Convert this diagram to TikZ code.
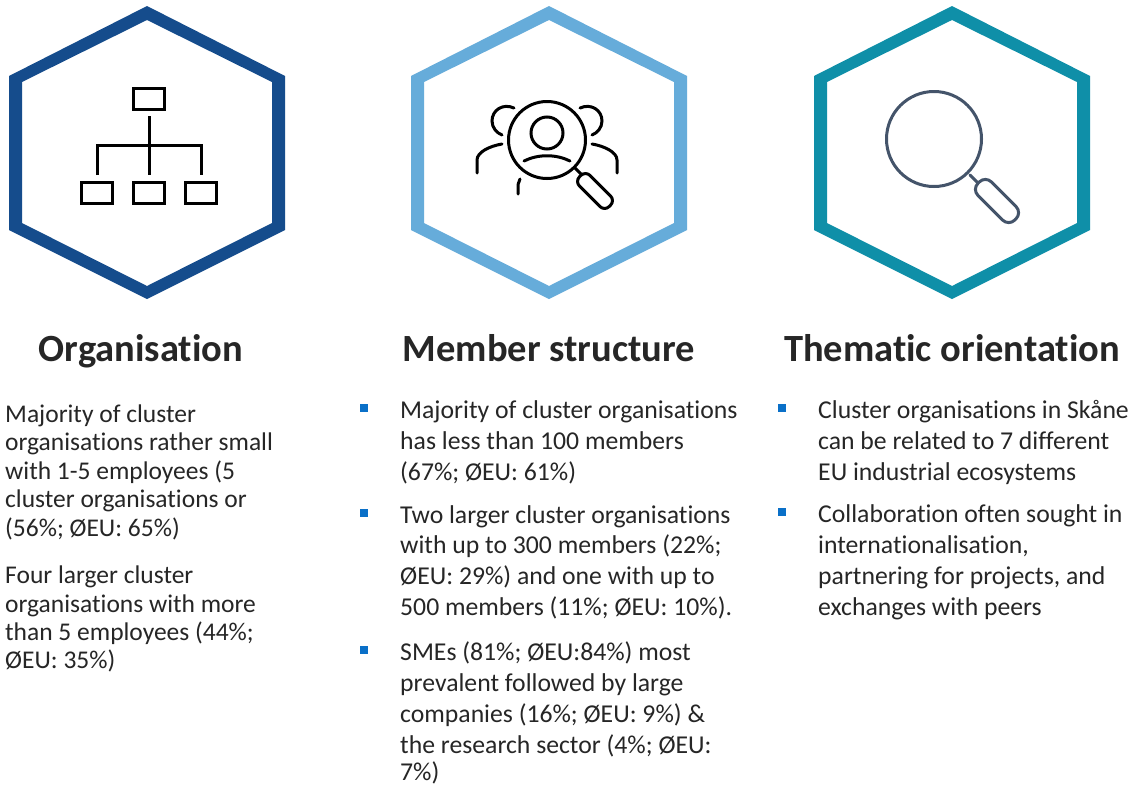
\documentclass[tikz,border=0pt]{standalone}
\usepackage{fontspec}
\setmainfont{Carlito}[Ligatures=NoCommon]
\definecolor{hexa}{HTML}{154C8C}
\definecolor{hexb}{HTML}{66ACDA}
\definecolor{hexc}{HTML}{0F8FA8}
\definecolor{txt}{HTML}{262626}
\definecolor{bul}{HTML}{0A70C8}
\definecolor{mag}{HTML}{44546A}
\tikzset{
  bodytext/.style={anchor=base west,inner sep=0pt,font=\fontsize{25.7}{26}\selectfont,text=txt},
  smalltext/.style={anchor=base west,inner sep=0pt,font=\fontsize{25.5}{26}\selectfont,text=txt},
  headtext/.style={anchor=base,inner sep=0pt,font=\fontsize{38.5}{39}\selectfont\bfseries,text=txt},
  bulletmark/.style={fill=bul,draw=none,minimum size=8pt,inner sep=0pt,rectangle},
  iconline/.style={draw=black,line width=3pt},
  mansline/.style={draw=black,line width=3pt,line cap=round},
  glassline/.style={draw=mag,line width=3pt,line cap=round},
}
\newcommand{\hexring}[2]{%
  \fill[#2,even odd rule,shift={(#1,0)}]
    (0,6)--(138,76)--(138,230)--(0,299)--(-138,230)--(-138,76)--cycle
    (0,20)--(125,82)--(125,223)--(0,286)--(-125,223)--(-125,82)--cycle;}
\begin{document}
\begin{tikzpicture}[x=1pt,y=-1pt]
\useasboundingbox (0,0) rectangle (1132,785);
\fill[white] (0,0) rectangle (1132,785);
\hexring{147}{hexa}
\hexring{549}{hexb}
\hexring{952}{hexc}
% org chart icon
\node[iconline,rectangle,minimum width=31pt,minimum height=21pt,inner sep=0pt] (top) at (149,99) {};
\node[iconline,rectangle,minimum width=31pt,minimum height=21pt,inner sep=0pt] (lb) at (97,193) {};
\node[iconline,rectangle,minimum width=31pt,minimum height=21pt,inner sep=0pt] (mb) at (149,193) {};
\node[iconline,rectangle,minimum width=31pt,minimum height=21pt,inner sep=0pt] (rb) at (201,193) {};
\coordinate (tj) at (149,116);
\coordinate (le) at (97,175);
\coordinate (me) at (149,175);
\coordinate (re) at (201,175);
\draw[iconline] (tj)--(me);
\draw[iconline] (le)--(97,145)--(201,145)--(re);
% people magnifier
\draw[mansline] (547,140) circle[radius=38.5];
\draw[mansline] (547,133) circle[radius=16];
\draw[mansline] (524,161) .. controls (538,154) and (556,154) .. (570,161);
\draw[mansline] (514,108) .. controls (503,103) and (492,110) .. (492,121) .. controls (492,128) and (497,133) .. (502,135);
\draw[mansline] (580,108) .. controls (591,103) and (602,110) .. (602,121) .. controls (602,128) and (597,133) .. (592,135);
\draw[mansline] (502,144) .. controls (490,146) and (477,152) .. (477,160) -- (477,173);
\draw[mansline] (592,144) .. controls (604,146) and (617,152) .. (617,160) -- (617,173);
\draw[mansline] (520,179) .. controls (518,182) and (518,184) .. (518,194);
\draw[mansline] (575,168) -- (581,174);
\draw[mansline,rounded corners=6.5pt,rotate around={-45:(595,191)}] (574,183.5) rectangle (616,198.5);
% plain magnifier
\draw[glassline] (934,139) circle[radius=47.5];
\draw[glassline] (970,175) -- (977,182);
\draw[glassline,rounded corners=8.5pt,rotate around={-45:(997,201)}] (971,191.5) rectangle (1023,210.5);
% headings
\node[headtext] (h1) at (141,361) {Organisation};
\node[headtext] (h2) at (549,361) {Member structure};
\node[headtext] (h3) at (952,361) {Thematic orientation};
% column 1
\node[smalltext] (a1) at (5,422) {Majority of cluster};
\node[smalltext] (a2) at (5,450) {organisations rather small};
\node[smalltext] (a3) at (5,479) {with 1-5 employees (5};
\node[smalltext] (a4) at (5,507) {cluster organisations or};
\node[smalltext] (a5) at (5,536) {(56\%; ØEU: 65\%)};
\node[smalltext] (a6) at (5,583) {Four larger cluster};
\node[smalltext] (a7) at (5,612) {organisations with more};
\node[smalltext] (a8) at (5,640) {than 5 employees (44\%;};
\node[smalltext] (a9) at (5,668) {ØEU: 35\%)};
% column 2
\node[bulletmark] (bm1) at (364,408) {};
\node[bulletmark] (bm2) at (364,513) {};
\node[bulletmark] (bm3) at (364,650) {};
\node[bodytext] (b1) at (400,418) {Majority of cluster organisations};
\node[bodytext] (b2) at (400,449) {has less than 100 members};
\node[bodytext] (b3) at (400,480) {(67\%; ØEU: 61\%)};
\node[bodytext] (b4) at (400,523) {Two larger cluster organisations};
\node[bodytext] (b5) at (400,553) {with up to 300 members (22\%;};
\node[bodytext] (b6) at (400,584) {ØEU: 29\%) and one with up to};
\node[bodytext] (b7) at (400,615) {500 members (11\%; ØEU: 10\%).};
\node[bodytext] (b8) at (400,660) {SMEs (81\%; ØEU:84\%) most};
\node[bodytext] (b9) at (400,691) {prevalent followed by large};
\node[bodytext] (b10) at (400,722) {companies (16\%; ØEU: 9\%) \&};
\node[bodytext] (b11) at (400,753) {the research sector (4\%; ØEU:};
\node[bodytext] (b12) at (400,780) {7\%)};
% column 3
\node[bulletmark] (cm1) at (782,408) {};
\node[bulletmark] (cm2) at (782,512) {};
\node[bodytext] (c1) at (818,418) {Cluster organisations in Skåne};
\node[bodytext] (c2) at (818,449) {can be related to 7 different};
\node[bodytext] (c3) at (818,480) {EU industrial ecosystems};
\node[bodytext] (c4) at (818,522) {Collaboration often sought in};
\node[bodytext] (c5) at (818,553) {internationalisation,};
\node[bodytext] (c6) at (818,584) {partnering for projects, and};
\node[bodytext] (c7) at (818,615) {exchanges with peers};
\end{tikzpicture}
\end{document}
